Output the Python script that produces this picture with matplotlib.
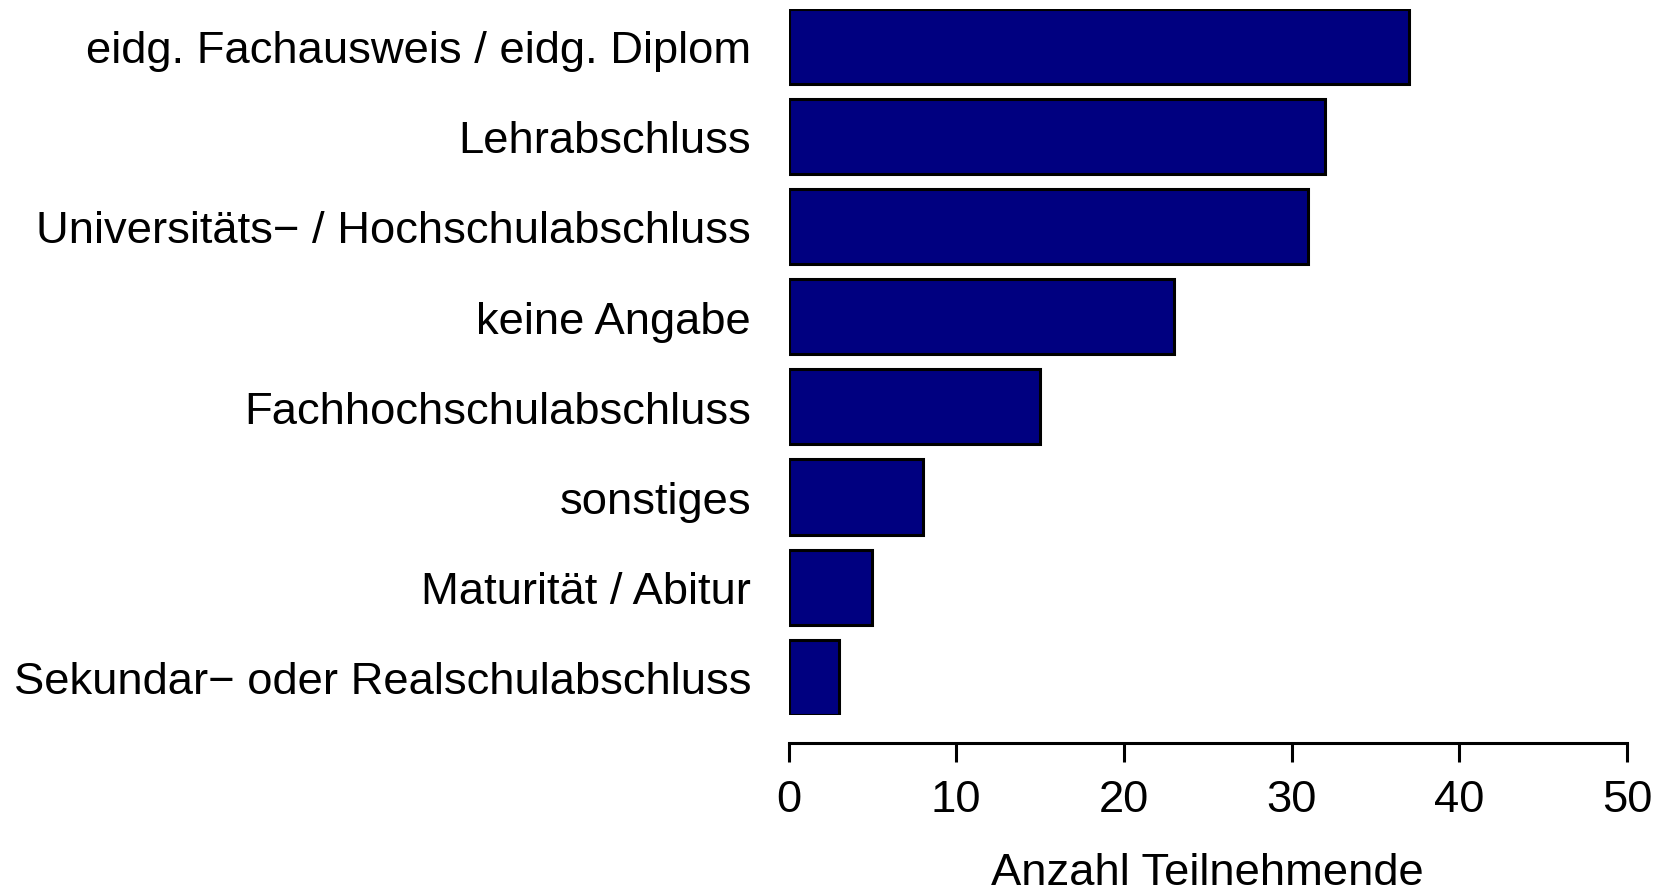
import matplotlib
matplotlib.use("Agg")
import matplotlib.pyplot as plt

# Abschlüsse, von oben nach unten
categories = [
    "eidg. Fachausweis / eidg. Diplom",
    "Lehrabschluss",
    "Universitäts\u2212 / Hochschulabschluss",
    "keine Angabe",
    "Fachhochschulabschluss",
    "sonstiges",
    "Maturität / Abitur",
    "Sekundar\u2212 oder Realschulabschluss",
]
counts = [37, 32, 31, 23, 15, 8, 5, 3]
xticks = [0, 10, 20, 30, 40, 50]

plt.rcParams["font.family"] = ["Liberation Sans", "DejaVu Sans"]
fs = 32.7

fig = plt.figure(figsize=(16.62, 8.95), dpi=100)
ax = fig.add_axes([788.5 / 1662, 1 - 716 / 895, (1627 - 788.5) / 1662, (716 - 9.5) / 895])

n = len(categories)
ypos = [0.7 + 1.2 * (n - 1 - i) for i in range(n)]
ax.barh(ypos, counts, height=1.0, left=0, color="#000080",
        edgecolor="black", linewidth=2.2)

ax.set_xlim(0, 50)
ax.set_ylim(0.2, 1.2 * n)

for s in ["top", "right", "left"]:
    ax.spines[s].set_visible(False)
ax.spines["bottom"].set_position(("outward", 20))
ax.spines["bottom"].set_linewidth(2.2)
ax.spines["bottom"].set_bounds(0, 50)

ax.set_yticks(ypos)
ax.set_yticklabels(categories)
ax.tick_params(axis="y", length=0, pad=27, labelsize=fs)

ax.set_xticks(xticks)
ax.set_xticklabels([str(t) for t in xticks])
ax.tick_params(axis="x", length=14, width=2.2, pad=12, labelsize=fs)

ax.set_xlabel("Anzahl Teilnehmende", fontsize=fs, labelpad=23)

fig.savefig("out.png", dpi=100)
